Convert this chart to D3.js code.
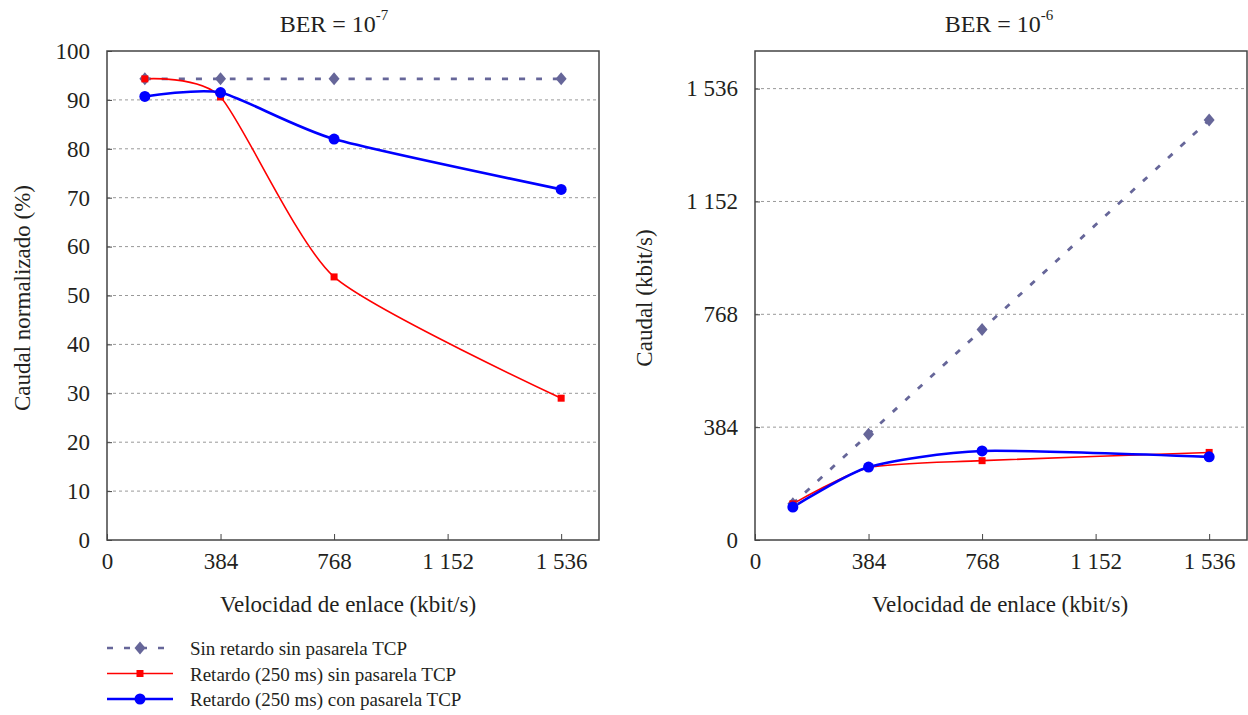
<!DOCTYPE html>
<html><head><meta charset="utf-8">
<script src="https://cdn.jsdelivr.net/npm/d3@7"></script>
<style>body{margin:0;background:#fff}svg text{font-family:"Liberation Serif","Times New Roman",Times,serif}</style>
</head><body><svg id="c" width="1248" height="715"></svg>
<script>
const speeds = [128, 384, 768, 1536];
const xTicks = [0, 384, 768, 1152, 1536];
const seriesNames = ["Sin retardo sin pasarela TCP", "Retardo (250 ms) sin pasarela TCP", "Retardo (250 ms) con pasarela TCP"];
// BER = 1e-7 : normalised throughput (%)
const ber7Sin = [94.3, 94.3, 94.3, 94.3];
const ber7Ret = [94.3, 90.6, 53.8, 29.0];
const ber7Pas = [90.7, 91.5, 82.0, 71.7];
const ber7Ticks = [0, 10, 20, 30, 40, 50, 60, 70, 80, 90, 100];
// BER = 1e-6 : throughput (kbit/s)
const ber6Sin = [123, 360, 716, 1429];
const ber6Ret = [123, 246, 270, 298];
const ber6Pas = [112, 248, 303, 283];
const ber6Ticks = [0, 384, 768, 1152, 1536];

const colors = ["#666699", "#ff0000", "#0000ff"];
const FONT = '"Liberation Serif","Times New Roman",Times,serif';
const TXT = "#231f20";
const DASH = "6,11";
const svg = d3.select("#c");
const fmt = v => { const s = String(v); return s.length > 3 ? s.slice(0, s.length - 3) + " " + s.slice(s.length - 3) : s; };

function panel(o) {
  const x = d3.scaleLinear().domain([0, 1664]).range([o.x0, o.x1]);
  const y = d3.scaleLinear().domain(o.yDomain).range([o.y1, o.y0]);
  const g = svg.append("g");
  // grid
  g.selectAll(".grid").data(o.yTicks.filter(t => t > 0 && t < o.yDomain[1])).join("line")
    .attr("x1", o.x0).attr("x2", o.x1).attr("y1", d => y(d)).attr("y2", d => y(d))
    .attr("stroke", "#999").attr("stroke-dasharray", "3,3").attr("stroke-width", 1);
  // frame
  g.append("rect").attr("x", o.x0).attr("y", o.y0).attr("width", o.x1 - o.x0).attr("height", o.y1 - o.y0)
    .attr("fill", "none").attr("stroke", "#444").attr("stroke-width", 1.5);
  // axes
  const xa = g.append("g").attr("transform", `translate(0,${o.y1})`)
    .call(d3.axisBottom(x).tickValues(xTicks).tickSize(-6).tickPadding(12).tickFormat(fmt));
  xa.attr("font-family", FONT);
  xa.select(".domain").remove();
  xa.selectAll("line").attr("stroke", "#444");
  xa.selectAll("text").attr("font-size", 23).attr("fill", TXT).attr("dy", "0.72em");
  const ya = g.append("g").attr("transform", `translate(${o.x0},0)`)
    .call(d3.axisLeft(y).tickValues(o.yTicks).tickSize(-5).tickPadding(17).tickFormat(fmt));
  ya.attr("font-family", FONT);
  ya.select(".domain").remove();
  ya.selectAll("line").attr("stroke", "#444");
  ya.selectAll("text").attr("font-size", 23).attr("fill", TXT);
  // titles
  const t = g.append("text").attr("x", o.titleX).attr("y", 32).attr("text-anchor", "middle")
    .attr("font-family", FONT).attr("font-size", 24).attr("fill", TXT);
  t.append("tspan").text("BER = 10");
  t.append("tspan").attr("dy", -12).attr("font-size", 15).text(o.exp);
  g.append("text").attr("x", o.xlabX).attr("y", 612).attr("text-anchor", "middle")
    .attr("font-family", FONT).attr("font-size", 23).attr("fill", TXT).text("Velocidad de enlace (kbit/s)");
  g.append("text").attr("transform", `translate(${o.ylabX},298) rotate(-90)`).attr("text-anchor", "middle")
    .attr("font-family", FONT).attr("font-size", 23).attr("fill", TXT).text(o.ylab);
  // series
  const line = d3.line().x((d, i) => x(speeds[i])).y(d => y(d)).curve(d3.curveCardinal.tension(0.35));
  o.series.forEach((vals, si) => {
    g.append("path").attr("d", line(vals)).attr("fill", "none").attr("stroke", colors[si])
      .attr("stroke-width", si === 0 ? 2.8 : (si === 1 ? 1.6 : 2.6))
      .attr("stroke-dasharray", si === 0 ? DASH : null);
  });
  o.series.forEach((vals, si) => drawMarkers(g, vals.map((v, i) => [x(speeds[i]), y(v)]), si));
}

function drawMarkers(g, pts, si) {
  if (si === 0) {
    g.selectAll(null).data(pts).join("path")
      .attr("d", d => `M${d[0]},${d[1]-6.5}L${d[0]+5.5},${d[1]}L${d[0]},${d[1]+6.5}L${d[0]-5.5},${d[1]}Z`)
      .attr("fill", colors[0]);
  } else if (si === 1) {
    g.selectAll(null).data(pts).join("rect")
      .attr("x", d => d[0] - 3.5).attr("y", d => d[1] - 3.5).attr("width", 7).attr("height", 7).attr("fill", colors[1]);
  } else {
    g.selectAll(null).data(pts).join("circle")
      .attr("cx", d => d[0]).attr("cy", d => d[1]).attr("r", 5.5).attr("fill", colors[2]);
  }
}

panel({x0: 107, x1: 599, y0: 51, y1: 540, yDomain: [0, 100], yTicks: ber7Ticks,
  series: [ber7Sin, ber7Ret, ber7Pas], titleX: 334, exp: "-7", xlabX: 348,
  ylab: "Caudal normalizado (%)", ylabX: 30});
panel({x0: 755, x1: 1247, y0: 51, y1: 540, yDomain: [0, 1664], yTicks: ber6Ticks,
  series: [ber6Sin, ber6Ret, ber6Pas], titleX: 999, exp: "-6", xlabX: 1000,
  ylab: "Caudal (kbit/s)", ylabX: 652});

// legend
const leg = svg.append("g");
seriesNames.forEach((name, i) => {
  const yy = 648 + i * 25.5;
  leg.append("line").attr("x1", 107).attr("x2", 173).attr("y1", yy).attr("y2", yy)
    .attr("stroke", colors[i]).attr("stroke-width", i === 1 ? 1.6 : 2.6)
    .attr("stroke-dasharray", i === 0 ? DASH : null);
  drawMarkers(leg, [[140, yy]], i);
  leg.append("text").attr("x", 190).attr("y", yy + 7).attr("font-family", FONT).attr("font-size", 19).attr("fill", TXT).text(name);
});
</script></body></html>
